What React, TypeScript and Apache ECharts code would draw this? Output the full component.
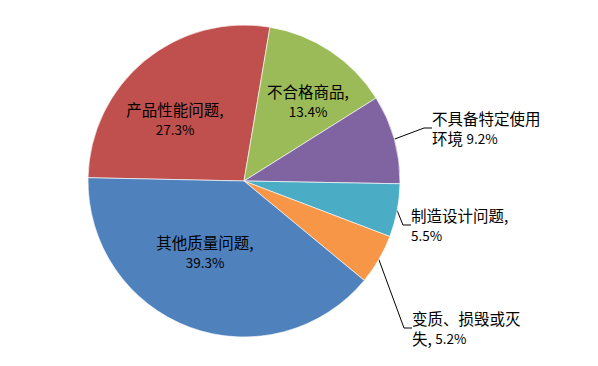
import React, { useEffect, useRef } from "react";
import * as echarts from "echarts";

const categories = [
  "产品性能问题",
  "不合格商品",
  "不具备特定使用环境",
  "制造设计问题",
  "变质、损毁或灭失",
  "其他质量问题",
];
const values = [27.3, 13.4, 9.2, 5.5, 5.2, 39.3];
const labelTexts = [
  "{c|产品性能问题,}\n{n|27.3%}",
  "{c|不合格商品,}\n{n|13.4%}",
  "{c|不具备特定使用}\n{c|环境 }{n|9.2%}",
  "{c|制造设计问题,}\n{n|5.5%}",
  "{c|变质、损毁或灭}\n{c|失, }{n|5.2%}",
  "{c|其他质量问题,}\n{n|39.3%}",
];
const colors = ["#C0504D", "#9BBB59", "#8064A2", "#4BACC6", "#F79646", "#4F81BD"];
const insideFlags = [true, true, false, false, false, true];

// label placement (layout only)
const labelPlaces: { x: number; y: number; align: "left" | "center" }[] = [
  { x: 175, y: 119, align: "center" },
  { x: 308, y: 101, align: "center" },
  { x: 432, y: 128, align: "left" },
  { x: 411, y: 225, align: "left" },
  { x: 412, y: 328, align: "left" },
  { x: 205, y: 252, align: "center" },
];

const FONT = "'Noto Sans CJK SC', sans-serif";

export default function App() {
  const ref = useRef<HTMLDivElement>(null);
  useEffect(() => {
    if (!ref.current) return;
    const chart = echarts.init(ref.current, undefined, { renderer: "svg" });
    chart.setOption({
      animation: false,
      backgroundColor: "#ffffff",
      series: [
        {
          type: "pie",
          center: [244, 181],
          radius: 156,
          startAngle: 178.8,
          clockwise: true,
          avoidLabelOverlap: false,
          itemStyle: { borderColor: "rgba(255,255,255,0.8)", borderWidth: 0.8 },
          label: {
            show: true,
            color: "#000",
            fontSize: 15.5,
            lineHeight: 20,
            fontFamily: FONT,
            rich: {
              c: { fontSize: 15.5, lineHeight: 20, fontFamily: FONT, color: "#000" },
              n: { fontSize: 13.5, lineHeight: 20, fontFamily: FONT, color: "#000" },
            },
          },
          labelLine: {
            show: true,
            length: 20,
            length2: 8,
            lineStyle: { color: "#000", width: 1 },
          },
          labelLayout: (params: any) => {
            const p = labelPlaces[params.dataIndex];
            return { x: p.x, y: p.y, align: p.align, verticalAlign: "middle" };
          },
          data: categories.map((name, i) => ({
            name,
            value: values[i],
            itemStyle: { color: colors[i] },
            label: {
              position: insideFlags[i] ? "inside" : "outside",
              formatter: labelTexts[i],
              align: labelPlaces[i].align,
            },
            labelLine: { show: !insideFlags[i] },
          })),
        },
      ],
    });
    return () => chart.dispose();
  }, []);
  return (
    <div
      ref={ref}
      style={{ position: "fixed", left: 0, top: 0, width: 598, height: 366 }}
    />
  );
}
